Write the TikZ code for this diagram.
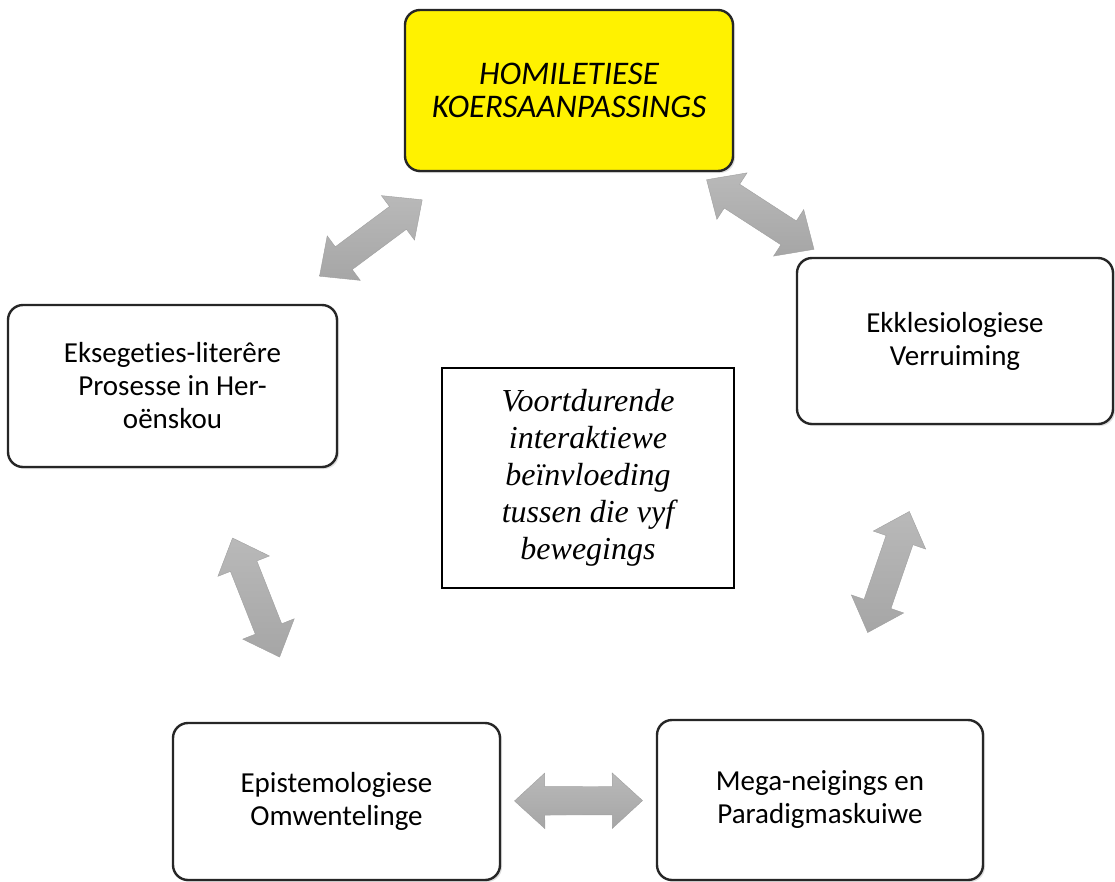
\documentclass[tikz,border=0pt]{standalone}
\usepackage{fontspec}
\setmainfont[Ligatures=NoCommon]{Carlito}
\newfontfamily\serifit{Liberation Serif}
\usetikzlibrary{shapes.arrows,shadows}

\begin{document}
\begin{tikzpicture}[x=1pt,y=-1pt,
    box/.style={draw=black!85, line width=2.4pt, rounded corners=15pt, fill=white,
        align=center, inner sep=0pt, font=\fontsize{29}{33}\selectfont,
        drop shadow={shadow xshift=2pt, shadow yshift=-2pt, opacity=0.25}},
    arr/.style={double arrow, sloped, minimum height=128pt, inner xsep=0pt, inner ysep=14pt,
        double arrow head extend=13.5pt, double arrow tip angle=85,
        shading=axis, shading angle=#1, top color=gray!55, middle color=gray!30, bottom color=gray!70,
        draw=gray!75, line width=0.4pt},
    arr/.default=0]
\useasboundingbox (0,0) rectangle (1115,881);

    \node[box, fill=yellow, minimum width=328pt, minimum height=161pt,
          font=\itshape\fontsize{33}{33}\selectfont] (top) at (569,90.5) {HOMILETIESE\\KOERSAANPASSINGS};
    \node[box, minimum width=316pt, minimum height=166pt] (right) at (955,341) {Ekklesiologiese\\Verruiming};
    \node[box, minimum width=329pt, minimum height=162pt] (left) at (172.5,386) {Eksegeties-literêre\\Prosesse in Her-\\oënskou};
    \node[box, minimum width=327pt, minimum height=157pt] (botleft) at (336.5,801.5) {Epistemologiese\\Omwentelinge};
    \node[box, minimum width=326pt, minimum height=160pt] (botright) at (820,800) {Mega-neigings en\\Paradigmaskuiwe};

    \node[draw, line width=1.2pt, minimum width=292pt, minimum height=220pt, align=center,
          font=\serifit\itshape\fontsize{32}{37}\selectfont] (mid) at (588,478)
          {Voortdurende\\interaktiewe\\beïnvloeding\\tussen die vyf\\bewegings};

    % fat double arrows between the boxes
    \path (top) -- node[arr=38] (a1) {} (left);
    \path (top) -- node[arr=-31] (a2) {} (right);
    \path (left) -- node[arr=-66, pos=0.51] (a3) {} (botleft);
    \path ([xshift=-16pt]right.south) -- node[arr=71] (a4) {} ([xshift=18pt]botright.north);
    \path (botleft) -- node[arr] (a5) {} (botright);

\end{tikzpicture}
\end{document}
